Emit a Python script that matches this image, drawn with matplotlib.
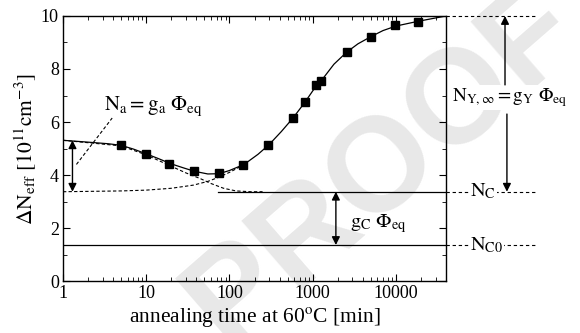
import matplotlib

matplotlib.use("Agg")

import matplotlib.pyplot as plt
import matplotlib.transforms as mtransforms
from matplotlib.ticker import FixedLocator, LogLocator, NullFormatter

plt.rcParams["font.family"] = ["Liberation Serif", "DejaVu Serif"]
plt.rcParams["mathtext.fontset"] = "stix"
plt.rcParams["mathtext.default"] = "rm"

# measured annealing points (time in min, Delta N_eff in 1e11 cm^-3)
t_meas = [5, 10, 19, 37, 74, 146, 294, 575, 800, 1105, 1270, 2550, 5000, 9700, 18500]
n_meas = [5.14, 4.79, 4.43, 4.16, 4.07, 4.39, 5.14, 6.15, 6.74, 7.41, 7.54, 8.63, 9.20, 9.65, 9.78]

# full fit curve
t_fit = [1, 2, 3.5, 5, 7, 10, 14, 20, 28, 38, 55, 75, 100, 150, 220, 300, 420, 580,
         800, 1100, 1270, 1800, 2550, 3500, 5000, 7000, 10000, 18500, 40000]
n_fit = [5.31, 5.24, 5.18, 5.12, 4.98, 4.80, 4.62, 4.42, 4.27, 4.14, 4.04, 4.05, 4.17,
         4.40, 4.78, 5.15, 5.64, 6.15, 6.73, 7.36, 7.56, 8.18, 8.63, 8.95, 9.22, 9.45,
         9.62, 9.80, 10.0]

# short-term (beneficial) component on top of N_C
t_short = [1, 5, 10, 20, 30, 45, 60, 85, 120, 180, 250]
n_short = [5.31, 5.10, 4.76, 4.33, 4.08, 3.86, 3.68, 3.50, 3.40, 3.37, 3.37]

# reverse annealing component on top of N_C
t_rev = [1, 5, 10, 20, 37, 55, 75, 100, 150]
n_rev = [3.37, 3.40, 3.43, 3.50, 3.62, 3.76, 3.92, 4.10, 4.39]

# levels
n_c = 3.37
n_c0 = 1.36
n_y_inf = 10.0
n_start = 5.31

x_ticks = [1, 10, 100, 1000, 10000]
x_labels = ["1", "10", "100", "1000", "10000"]
y_ticks = [0, 2, 4, 6, 8, 10]

fig = plt.figure(figsize=(5.8, 3.33), dpi=100)
fig.subplots_adjust(left=0.1086, right=0.769, bottom=0.156, top=0.952)
ax = fig.add_subplot(111)
ax.set_facecolor("none")

fig.text(0.66, 0.50, "PROOF", fontsize=96, fontweight="bold", family="Liberation Sans",
         color="#e8e8e8", rotation=41, ha="center", va="center", zorder=-5)

ax.set_xscale("log")
ax.set_xlim(1, 40000)
ax.set_ylim(0, 10)

ax.plot(t_fit, n_fit, color="black", lw=0.9, zorder=3)
ax.plot(t_short, n_short, color="black", lw=0.8, ls=(0, (3, 2)), zorder=2)
ax.plot(t_rev, n_rev, color="black", lw=0.8, ls=(0, (3, 2)), zorder=2)
ax.plot(t_meas, n_meas, ls="none", marker="s", ms=5.8, color="black", zorder=4)

ax.plot([72, 40000], [n_c, n_c], color="black", lw=0.9)
ax.axhline(n_c0, color="black", lw=0.9)

# left: N_a double arrow and label
arr = dict(arrowstyle="<|-|>", color="black", lw=1.0, mutation_scale=12, shrinkA=0, shrinkB=0)
ax.annotate("", xy=(1.3, n_start), xytext=(1.3, n_c), arrowprops=arr)
ax.plot([1.45, 3.9], [4.4, 6.15], color="black", lw=0.8, ls=(0, (3, 2)))
ax.text(3.15, 6.6, r"$\mathrm{N_a = g_a}\ \Phi_{\mathrm{eq}}$", fontsize=15, va="center", ha="left")

# middle: g_C double arrow and label
ax.annotate("", xy=(1900, n_c), xytext=(1900, n_c0), arrowprops=arr)
ax.text(2790, 2.18, r"$\mathrm{g_C}\ \Phi_{\mathrm{eq}}$", fontsize=14.5, va="center", ha="left")

# right side, outside the axes
blend = mtransforms.blended_transform_factory(ax.transAxes, ax.transData)
for level in (n_y_inf, n_c, n_c0):
    ax.plot([1.0, 1.232], [level, level], transform=blend, clip_on=False,
            color="black", lw=0.8, ls=(0, (3, 2.5)))

box = dict(facecolor="white", edgecolor="none", pad=0.5)
ax.text(1.063, n_c, r"$\mathrm{N_C}$", transform=blend, fontsize=14.5, va="center", ha="left", bbox=box)
ax.text(1.063, n_c0, r"$\mathrm{N_{C0}}$", transform=blend, fontsize=14.5, va="center", ha="left", bbox=box)
ax.text(1.016, 6.92, r"$\mathrm{N_{Y,\infty} = g_Y}\ \Phi_{\mathrm{eq}}$", transform=blend,
        fontsize=13.8, va="center", ha="left", bbox=box)

one = dict(arrowstyle="-|>", color="black", lw=1.0, mutation_scale=12, shrinkA=0, shrinkB=0)
ax.annotate("", xy=(1.154, n_y_inf), xytext=(1.154, 7.4), xycoords=blend, textcoords=blend,
            arrowprops=one, annotation_clip=False)
ax.annotate("", xy=(1.159, n_c), xytext=(1.159, 6.3), xycoords=blend, textcoords=blend,
            arrowprops=one, annotation_clip=False)

# axes styling
ax.xaxis.set_major_locator(FixedLocator(x_ticks))
ax.set_xticklabels(x_labels)
ax.xaxis.set_minor_locator(LogLocator(base=10, subs=range(2, 10), numticks=20))
ax.xaxis.set_minor_formatter(NullFormatter())
ax.set_yticks(y_ticks)
ax.set_yticks([1, 3, 5, 7, 9], minor=True)
ax.tick_params(which="both", direction="in", top=True, right=True, labelsize=13, pad=3)
ax.tick_params(which="major", length=5, width=0.8)
ax.tick_params(which="minor", length=3, width=0.6)
for spine in ax.spines.values():
    spine.set_linewidth(1.0)

ax.set_xlabel("annealing time at 60$^{\\mathrm{o}}$C [min]", fontsize=15.5, labelpad=2)
ax.set_ylabel(r"$\Delta\mathrm{N_{eff}}\ [10^{11}\mathrm{cm}^{-3}]$", fontsize=15.5, labelpad=1)

fig.savefig("out.png", dpi=100, facecolor="white")
